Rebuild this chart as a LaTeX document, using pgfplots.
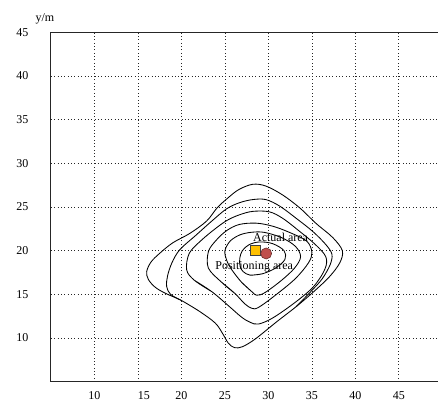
\documentclass[border=0pt]{standalone}
\usepackage{fontspec}
\setmainfont{Liberation Serif}
\usepackage{pgfplots}
\pgfplotsset{compat=1.18}
\definecolor{sq}{HTML}{FFC000}
\definecolor{ci}{HTML}{C0504D}
\begin{document}
\begin{tikzpicture}
\begin{axis}[name=ax, scale only axis, width=387pt, height=349.4pt,
  xmin=5, xmax=49.5, ymin=5, ymax=45,
  axis x line=box, axis y line=left,
  axis line style={-, line width=1pt, black!85},
  xtick={10,15,...,45}, ytick={10,15,...,45},
  xticklabels={10,{\hspace*{12pt}\raisebox{-2.5pt}{15}},20,25,30,35,40,45},
  major tick length=0pt,
  grid=major, grid style={black!85, line width=0.75pt, dash pattern=on 0.75pt off 2.6pt},
  /pgf/number format/assume math mode=true,
  ticklabel style={font=\fontsize{12}{14}\selectfont},
  yticklabel style={xshift=-19pt},
  xticklabel style={yshift=-6pt},
  clip=false,
  cont/.style={black, line width=0.85pt, smooth, tension=0.55, mark=none}]

% C1 outer
\addplot[cont] coordinates {(20.0,14.3) (22.0,13.1) (23.9,11.7) (24.8,10.4) (25.4,9.4) (26.1,8.9) (27.0,9.0) (28.5,9.9) (31.0,11.9) (33.2,13.6) (35.2,15.3) (37.0,17.0) (38.2,18.6) (38.5,20.0) (37.4,21.5) (35.5,23.1) (33.6,24.9) (31.6,26.4) (29.7,27.4) (28.2,27.6) (26.6,27.0) (25.3,26.0) (24.1,24.9) (22.9,23.4) (21.0,22.0) (19.0,20.9) (17.5,19.7) (16.5,18.7) (16.0,17.6) (16.2,16.7) (17.0,15.8) (18.2,15.1) (20.0,14.3) (22.0,13.1)};
% C2 (meets the outer line at the lower left and lower right)
\addplot[cont] coordinates {(20.0,14.3) (18.75,15.0) (18.3,15.9) (18.4,17.1) (18.9,18.6) (19.8,20.1) (21.7,21.8) (23.5,23.4) (25.2,24.8) (26.7,25.5) (28.2,25.85) (29.7,25.85) (31.3,25.1) (33.2,23.7) (35.1,22.2) (36.6,20.7) (37.3,19.6) (37.1,18.4) (36.2,16.8) (35.0,15.45) (33.2,13.6)};
% C3
\addplot[cont] coordinates {(21.5,16.6) (23.5,15.3) (25.4,13.7) (26.9,12.4) (27.9,11.8) (28.85,11.6) (30.5,12.3) (33.1,14.1) (35.2,15.9) (36.5,17.9) (36.6,19.3) (35.4,20.7) (33.6,22.2) (31.65,23.7) (30.1,24.45) (28.2,24.5) (26.65,24.1) (25.3,23.5) (24.0,22.6) (22.3,21.2) (20.9,19.7) (20.6,17.8) (21.5,16.6) (23.5,15.3)};
% C4
\addplot[cont] coordinates {(24.6,16.4) (26.15,15.1) (27.3,13.9) (28.1,13.4) (28.85,13.5) (30.8,14.9) (33.1,16.8) (34.6,18.6) (35.0,19.8) (34.4,21.1) (32.4,22.1) (30.5,22.8) (28.6,23.15) (26.65,23.0) (25.2,22.3) (24.0,21.2) (23.1,19.9) (23.1,18.0) (24.6,16.4) (26.15,15.1)};
% C5
\addplot[cont] coordinates {(26.9,16.4) (28.1,15.3) (28.65,14.9) (29.6,15.2) (31.5,16.6) (33.0,18.0) (33.7,19.3) (33.1,20.5) (31.5,21.5) (29.5,22.1) (28.0,22.1) (26.7,21.8) (25.6,21.1) (25.0,20.0) (25.2,18.9) (25.8,17.8) (26.9,16.4) (28.1,15.3)};
% C6
\addplot[cont] coordinates {(27.9,17.2) (29.3,17.35) (30.8,18.0) (31.9,19.0) (31.8,20.0) (30.5,20.8) (29.0,21.0) (27.8,20.7) (27.0,20.0) (26.7,19.1) (26.75,18.2) (27.1,17.6) (27.9,17.2) (29.3,17.35)};

\addplot[only marks, mark=square*, mark size=5pt, mark options={fill=sq, draw=black!75, line width=0.6pt, solid}] coordinates {(28.45,20.03)};
\addplot[only marks, mark=*, mark size=5.5pt, mark options={fill=ci, draw=ci!55!black, line width=0.6pt, solid}] coordinates {(29.74,19.68)};

\node[font=\fontsize{12}{14}\selectfont] at (axis cs:31.4,21.55) {Actual area};
\node[font=\fontsize{12}{14}\selectfont] at (axis cs:28.36,18.1) {Positioning area};
\node[font=\fontsize{12}{14}\selectfont] at (axis cs:4.3,46.5) {y/m};
\end{axis}
\pgfresetboundingbox
\useasboundingbox ([shift={(-51pt,-22.3pt)}]ax.south west) rectangle ([shift={(0pt,32.3pt)}]ax.north east);
\end{tikzpicture}
\end{document}
